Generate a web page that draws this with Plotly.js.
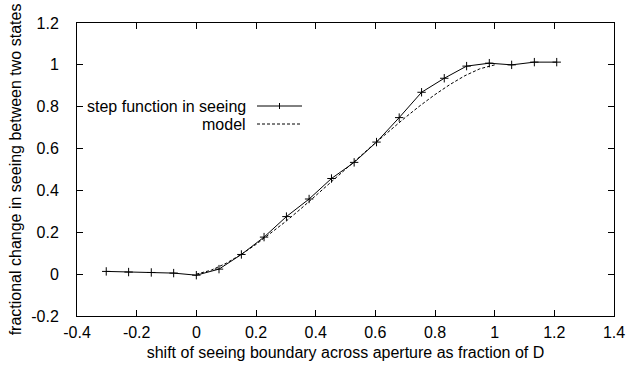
<!DOCTYPE html>
<html>
<head>
<meta charset="utf-8">
<script src="https://cdn.plot.ly/plotly-3.0.1.min.js"></script>
<style>html,body{margin:0;padding:0;background:#fff;}#chart{width:627px;height:371px;}</style>
</head>
<body>
<div id="chart"></div>
<script>
// measured data: step function in seeing
const shiftX = [-0.302, -0.227, -0.151, -0.076, 0.0, 0.076, 0.151, 0.227, 0.302, 0.378, 0.453, 0.529, 0.604, 0.680, 0.755, 0.831, 0.906, 0.982, 1.057, 1.133, 1.208];
const stepY  = [0.013, 0.010, 0.008, 0.005, -0.005, 0.024, 0.094, 0.177, 0.275, 0.359, 0.457, 0.534, 0.631, 0.748, 0.869, 0.936, 0.994, 1.008, 1.000, 1.013, 1.013];
// model curve
const modelX = [0.0, 0.05, 0.10, 0.15, 0.20, 0.25, 0.30, 0.35, 0.40, 0.45, 0.50, 0.55, 0.60, 0.65, 0.70, 0.75, 0.80, 0.85, 0.90, 0.95, 1.00];
const modelY = [0.0, 0.019, 0.052, 0.094, 0.142, 0.196, 0.252, 0.312, 0.374, 0.436, 0.500, 0.564, 0.627, 0.688, 0.748, 0.805, 0.858, 0.906, 0.948, 0.981, 1.000];
// ticks
const xTickVals = [-0.4, -0.2, 0, 0.2, 0.4, 0.6, 0.8, 1, 1.2, 1.4];
const xTickText = ["-0.4", "-0.2", "0", "0.2", "0.4", "0.6", "0.8", "1", "1.2", "1.4"];
const yTickVals = [-0.2, 0, 0.2, 0.4, 0.6, 0.8, 1, 1.2];
const yTickText = ["-0.2", "0", "0.2", "0.4", "0.6", "0.8", "1", "1.2"];
const seriesNames = ["step function in seeing", "model"];
const xTitle = "shift of seeing boundary across aperture as fraction of D";
const yTitle = "fractional change in seeing between two states";

const FONT = "Liberation Sans, Arial, Helvetica, sans-serif";
const FS = 16;

const traces = [
  {x: modelX, y: modelY, mode: "lines", name: seriesNames[1],
   line: {color: "#000", width: 1, dash: "3px,2px"}, showlegend: false},
  {x: shiftX, y: stepY, mode: "lines+markers", name: seriesNames[0],
   line: {color: "#000", width: 1},
   marker: {symbol: "cross-thin", size: 6, color: "#000", line: {color: "#000", width: 1}},
   showlegend: false}
];

// legend built gnuplot-style (text right, sample on the right)
const W = 627, H = 371, L = 77, R = 13, T = 23, B = 55;
const pw = W - L - R, ph = H - T - B;
const px = v => (v - L) / pw;
const py = v => (H - B - v) / ph;

const layout = {
  width: W, height: H,
  margin: {l: L, r: R, t: T, b: B},
  paper_bgcolor: "#fff", plot_bgcolor: "#fff",
  font: {family: FONT, size: FS, color: "#000"},
  showlegend: false,
  xaxis: {
    range: [-0.4, 1.4], tickvals: xTickVals, ticktext: xTickText,
    ticks: "inside", ticklen: 6, tickcolor: "#000", tickwidth: 1,
    showline: true, linecolor: "#000", linewidth: 1, mirror: "ticks",
    showgrid: false, zeroline: false, ticklabelstandoff: 2,
    tickfont: {family: FONT, size: FS},
    title: {text: xTitle, font: {family: FONT, size: FS}, standoff: 6}
  },
  yaxis: {
    range: [-0.2, 1.2], tickvals: yTickVals, ticktext: yTickText,
    ticks: "inside", ticklen: 6, tickcolor: "#000", tickwidth: 1,
    showline: true, linecolor: "#000", linewidth: 1, mirror: "ticks",
    showgrid: false, zeroline: false, ticklabelstandoff: 14,
    tickfont: {family: FONT, size: FS},
    title: {text: yTitle, font: {family: FONT, size: FS}, standoff: 5}
  },
  annotations: [
    {xref: "paper", yref: "paper", x: px(248), y: py(106), xanchor: "right", yanchor: "middle",
     text: seriesNames[0], showarrow: false, font: {family: FONT, size: FS}},
    {xref: "paper", yref: "paper", x: px(248), y: py(124), xanchor: "right", yanchor: "middle",
     text: seriesNames[1], showarrow: false, font: {family: FONT, size: FS}}
  ],
  shapes: [
    {type: "line", xref: "paper", yref: "paper", x0: px(257), x1: px(302), y0: py(106), y1: py(106),
     line: {color: "#000", width: 1}},
    {type: "line", xref: "paper", yref: "paper", x0: px(279.5), x1: px(279.5), y0: py(103), y1: py(109),
     line: {color: "#000", width: 1}},
    {type: "line", xref: "paper", yref: "paper", x0: px(257), x1: px(302), y0: py(124), y1: py(124),
     line: {color: "#000", width: 1, dash: "3px,2px"}}
  ]
};

Plotly.newPlot("chart", traces, layout, {displayModeBar: false, staticPlot: true});
</script>
</body>
</html>
